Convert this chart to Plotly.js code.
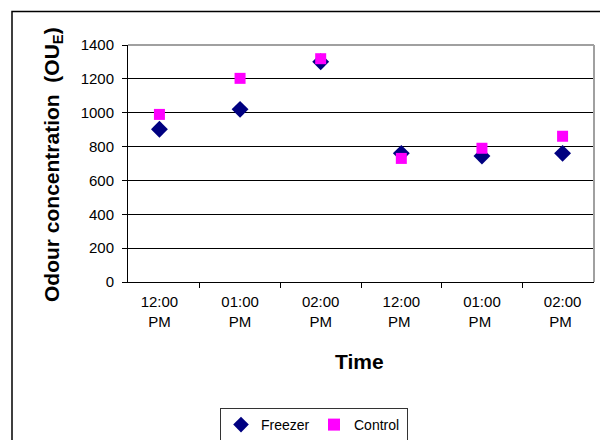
<!DOCTYPE html>
<html>
<head>
<meta charset="utf-8">
<script src="https://cdn.plot.ly/plotly-3.0.1.min.js"></script>
<style>html,body{margin:0;padding:0;background:#fff;}#chart{width:600px;height:440px;}</style>
</head>
<body>
<div id="chart"></div>
<script>
var categories = ["12:00<br>PM", "01:00<br>PM", "02:00<br>PM", "12:00<br>PM ", "01:00<br>PM ", "02:00<br>PM "];
var freezer = [902, 1020, 1301, 760, 744, 760];
var control = [990, 1203, 1319, 730, 790, 861];
var yTicks = [0, 200, 400, 600, 800, 1000, 1200, 1400];

var font = "Liberation Sans, Arial, sans-serif";

var traces = [
  {x: categories, y: freezer, name: "Freezer", type: "scatter", mode: "markers",
   marker: {symbol: "diamond", size: 13, color: "#000080"}},
  {x: categories, y: control, name: "Control", type: "scatter", mode: "markers",
   marker: {symbol: "square", size: 11, color: "#FF00FF"}}
];

var layout = {
  width: 600, height: 440,
  margin: {l: 128, r: 6, t: 45, b: 158},
  paper_bgcolor: "#fff", plot_bgcolor: "#fff",
  font: {family: font, size: 14, color: "#000"},
  showlegend: true,
  legend: {orientation: "h", xref: "container", yref: "container",
           x: 220 / 600, xanchor: "left", y: (440 - 408) / 440, yanchor: "top",
           bordercolor: "#333", borderwidth: 1, font: {size: 14, family: font},
           itemsizing: "constant", itemwidth: 30, entrywidth: 48, tracegroupgap: 0},
  xaxis: {type: "category", tickson: "boundaries", ticks: "outside", ticklen: 5,
          tickcolor: "#000", showline: true, linecolor: "#000", linewidth: 1,
          showgrid: false, ticklabelstandoff: 6,
          tickfont: {size: 15}, fixedrange: true, automargin: false},
  yaxis: {range: [0, 1400], tickvals: yTicks, ticks: "outside", ticklen: 5,
          tickcolor: "#000", showline: true, linecolor: "#000", linewidth: 1,
          showgrid: true, gridcolor: "#000", gridwidth: 1, zeroline: false,
          ticklabelstandoff: 5,
          tickfont: {size: 15}, fixedrange: true, automargin: false},
  shapes: [
    {type: "line", xref: "paper", yref: "paper", x0: 0, x1: 1, y0: 1, y1: 1,
     line: {color: "#a0a0a0", width: 2}, layer: "above"},
    {type: "line", xref: "paper", yref: "paper", x0: 1, x1: 1, y0: 0, y1: 1,
     line: {color: "#a0a0a0", width: 2}, layer: "above"},
    {type: "rect", xref: "paper", yref: "paper",
     x0: (12 - 128) / 466, x1: 1.2, y0: (282 - 11.5) / 237, y1: -2,
     line: {color: "#000", width: 1.5}, fillcolor: "rgba(0,0,0,0)", layer: "below"}
  ],
  annotations: [
    {text: "<b>Odour concentration  (OU<sub>E</sub>)</b>", textangle: -90,
     xref: "paper", yref: "paper", x: (53 - 128) / 466, y: (282 - 165) / 237,
     xanchor: "center", yanchor: "middle", showarrow: false,
     font: {size: 21, family: font}},
    {text: "<b>Time</b>", xref: "paper", yref: "paper",
     x: (359 - 128) / 466, y: (282 - 361) / 237, xanchor: "center", yanchor: "middle",
     showarrow: false, font: {size: 21, family: font}}
  ]
};

Plotly.newPlot("chart", traces, layout, {displayModeBar: false, staticPlot: true});
</script>
</body>
</html>
